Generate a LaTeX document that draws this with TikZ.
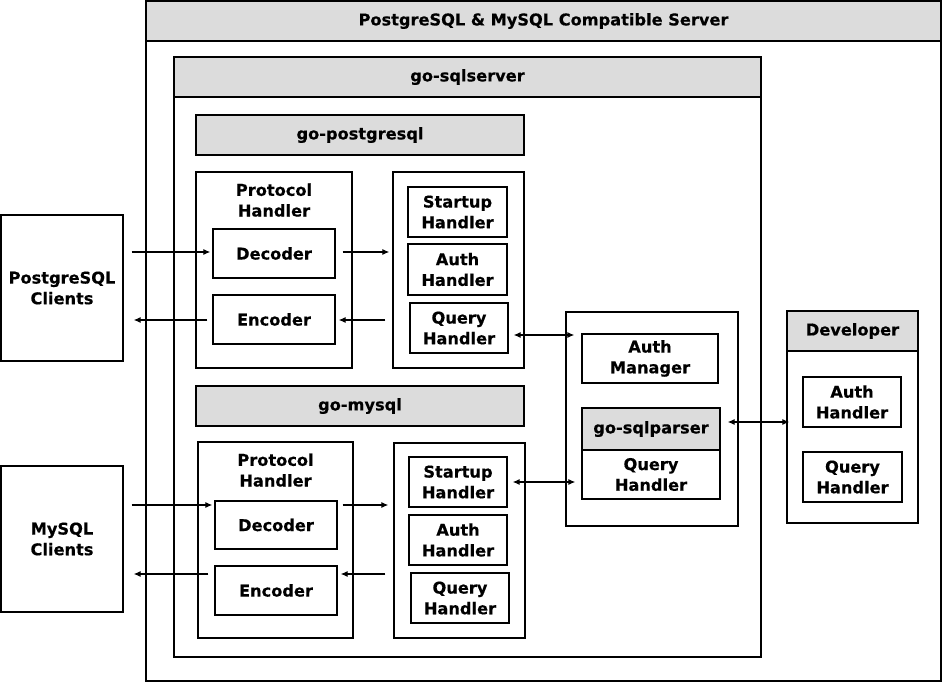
\documentclass[tikz,border=0pt]{standalone}
\usepackage{fontspec}
\setmainfont{DejaVu Sans}[BoldFeatures={FakeBold=0.4}]
\usetikzlibrary{positioning, calc, arrows.meta}
\definecolor{headgrey}{HTML}{DCDCDC}
\tikzset{>={Latex[length=7pt, width=6pt]}}
\tikzset{box/.style={draw, line width=1.4pt, align=center, inner sep=0pt}}
\tikzset{head/.style={box, fill=headgrey}}
\tikzset{wire/.style={line width=1.1pt}}
\tikzset{sz/.style 2 args={minimum width=#1pt, minimum height=#2pt}}

\begin{document}
\begin{tikzpicture}[x=1pt, y=-1pt, font=\bfseries\fontsize{16.2}{20.7}\selectfont]
    \useasboundingbox (0,0) rectangle (943,682);

    % server frame
    \node[box, sz={795}{680}] (server) at (543.5,341) {};
    \node[head, sz={795}{40}] (server-head) at (543.5,21) {PostgreSQL \& MySQL Compatible Server};

    \node[box, sz={587}{600}] (sqlserver) at (467.5,357) {};
    \node[head, sz={587}{40}] (sqlserver-head) at (467.5,77) {go-sqlserver};

    % go-postgresql
    \node[head, sz={328}{40}] (pg-head) at (360,135) {go-postgresql};
    \node[box, sz={156}{196}] (pg-proto) at (274,270) {};
    \node[align=center, inner sep=0pt, below=12pt of pg-proto.north] (pg-proto-title) {Protocol\\Handler};
    \node[box, sz={122}{49}] (pg-dec) at (274,253.5) {Decoder};
    \node[box, sz={122}{49}] (pg-enc) at (274,319.5) {Encoder};
    \node[box, sz={131}{196}] (pg-hdl) at (458.5,270) {};
    \node[box, sz={99}{50}] (pg-start) at (457.5,212) {Startup\\Handler};
    \node[box, sz={99}{51}] (pg-auth) at (457.5,269.5) {Auth\\Handler};
    \node[box, sz={98}{50}] (pg-query) at (459,328) {Query\\Handler};
    \node[box, sz={122}{146}] (pg-clients) at (62,288) {PostgreSQL\\Clients};

    % go-mysql
    \node[head, sz={328}{40}] (my-head) at (360,406) {go-mysql};
    \node[box, sz={155}{196}] (my-proto) at (275.5,540) {};
    \node[align=center, inner sep=0pt, below=12pt of my-proto.north] (my-proto-title) {Protocol\\Handler};
    \node[box, sz={122}{48}] (my-dec) at (276,525) {Decoder};
    \node[box, sz={122}{49}] (my-enc) at (276,590.5) {Encoder};
    \node[box, sz={131}{195}] (my-hdl) at (459.5,540.5) {};
    \node[box, sz={98}{50}] (my-start) at (458,482) {Startup\\Handler};
    \node[box, sz={98}{50}] (my-auth) at (458,540) {Auth\\Handler};
    \node[box, sz={98}{50}] (my-query) at (460,598) {Query\\Handler};
    \node[box, sz={122}{146}] (my-clients) at (62,539) {MySQL\\Clients};

    % core
    \node[box, sz={172}{214}] (core) at (652,419) {};
    \node[box, sz={136}{49}] (auth-mgr) at (650,358.5) {Auth\\Manager};
    \node[head, sz={138}{42}] (parser-head) at (651,429) {go-sqlparser};
    \node[box, sz={138}{49}] (parser-query) at (651,474.5) {Query\\Handler};

    % developer
    \node[box, sz={131}{212}] (dev) at (852.5,417) {};
    \node[head, sz={131}{40}] (dev-head) at (852.5,331) {Developer};
    \node[box, sz={98}{50}] (dev-auth) at (852,402) {Auth\\Handler};
    \node[box, sz={99}{50}] (dev-query) at (852.5,477) {Query\\Handler};

    \coordinate (pg-in) at (0,252);
    \coordinate (pg-out) at (0,320);
    \coordinate (my-in) at (0,505);
    \coordinate (my-out) at (0,574);
    \coordinate (pg-core) at (0,335);
    \coordinate (dev-link) at (0,422);

    \draw [wire, ->, shorten <=8pt, shorten >=2pt] (pg-clients.east |- pg-in) to (pg-dec.west |- pg-in);
    \draw [wire, ->, shorten <=7pt, shorten >=3pt] (pg-dec.east |- pg-in) to (pg-hdl.west |- pg-in);
    \draw [wire, ->, shorten <=7pt, shorten >=3pt] (pg-hdl.west |- pg-out) to (pg-enc.east |- pg-out);
    \draw [wire, ->, shorten <=5pt, shorten >=10pt] (pg-enc.west |- pg-out) to (pg-clients.east |- pg-out);
    \draw [wire, <->, shorten <=5pt, shorten >=7pt] (pg-query.east |- pg-core) to (auth-mgr.west |- pg-core);

    \draw [wire, ->, shorten <=8pt, shorten >=2pt] (my-clients.east |- my-in) to (my-dec.west |- my-in);
    \draw [wire, ->, shorten <=5pt, shorten >=5pt] (my-dec.east |- my-in) to (my-hdl.west |- my-in);
    \draw [wire, ->, shorten <=8pt, shorten >=3pt] (my-hdl.west |- my-out) to (my-enc.east |- my-out);
    \draw [wire, ->, shorten <=6pt, shorten >=10pt] (my-enc.west |- my-out) to (my-clients.east |- my-out);
    \draw [wire, <->, shorten <=5pt, shorten >=6pt] (my-start.east) to (my-start.east -| parser-query.west);

    \draw [wire, <->, shorten <=7pt, shorten >=-3pt] (parser-head.east |- dev-link) to (dev.west |- dev-link);
\end{tikzpicture}
\end{document}
